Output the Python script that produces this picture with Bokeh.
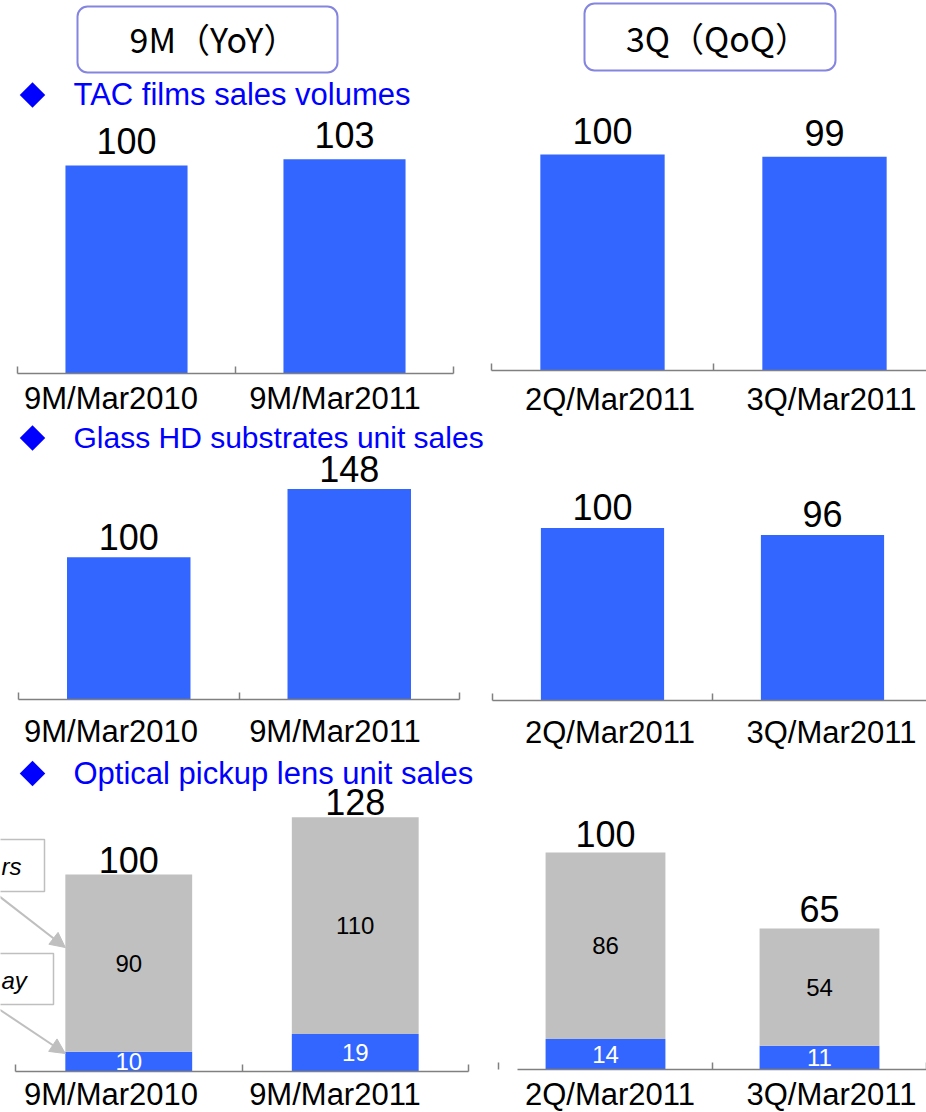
import numpy as np
from bokeh.plotting import figure
from bokeh.layouts import column, row
from bokeh.models import FixedTicker, Range1d, Arrow, NormalHead, ColumnDataSource
from bokeh.core.properties import value
from bokeh.embed import file_html
from bokeh.resources import INLINE

# ---------------- data ----------------
periods_yoy = ["9M/Mar2010", "9M/Mar2011"]
periods_qoq = ["2Q/Mar2011", "3Q/Mar2011"]

tac_yoy = [100, 103]
tac_qoq = [100, 99]

glass_yoy = [100, 148]
glass_qoq = [100, 96]

pickup_bluray_yoy = [10, 19]
pickup_others_yoy = [90, 110]
pickup_total_yoy = [100, 128]
pickup_bluray_qoq = [14, 11]
pickup_others_qoq = [86, 54]
pickup_total_qoq = [100, 65]

header_titles = ["9M（YoY）", "3Q（QoQ）"]
section_titles = ["TAC films sales volumes",
                  "Glass HD substrates unit sales",
                  "Optical pickup lens unit sales"]
callout_texts = ["rs", "ay"]   # visible ends of the cropped callout labels

# ---------------- style ----------------
FONT = "Liberation Sans"
CJK = "Noto Sans CJK JP"
BLUE = "#3366FF"
GRAY = "#C0C0C0"
TITLE_BLUE = "#0000FF"
AXIS = "#808080"
BOX = "#8585E0"
CALLOUT = "#BFBFBF"
BAR_W = 0.56
W_LEFT, W_RIGHT = 487, 439
TOTAL_W = W_LEFT + W_RIGHT
LABEL_PX_LEFT = [110.5, 334.5]    # page-pixel centres of the category labels
LABEL_PX_RIGHT = [609.5, 831.0]


class Panel:
    """A bar panel; layout given in page pixels, drawn in data space."""

    def __init__(self, cats, left, top, w, h, x0, cw, axis_y, ppu, standoff,
                 label_px, axis_start_px=None):
        self.x0, self.cw, self.axis_y, self.ppu = x0, cw, axis_y, ppu
        n = len(cats)
        p = figure(width=w, height=h, output_backend="svg", toolbar_location=None,
                   tools="", x_range=Range1d(self.dx(left), self.dx(left + w)),
                   y_range=Range1d(self.dy(top + h), self.dy(top)),
                   min_border=0, y_axis_location=None)
        p.outline_line_color = None
        p.xgrid.visible = False
        p.ygrid.visible = False
        self.centers = [i + 0.5 for i in range(n)]
        ticks = [self.dx(v) for v in label_px]
        ax = p.xaxis[0]
        ax.ticker = FixedTicker(ticks=ticks, minor_ticks=list(range(n + 1)))
        ax.major_label_overrides = {t: lab for t, lab in zip(ticks, cats)}
        ax.fixed_location = 0
        ax.bounds = (0 if axis_start_px is None else self.dx(axis_start_px), n)
        ax.axis_line_color = AXIS
        ax.axis_line_width = 1.5
        ax.major_tick_line_color = None
        ax.major_tick_in = 0
        ax.major_tick_out = 0
        ax.minor_tick_line_color = AXIS
        ax.minor_tick_line_width = 1.5
        ax.minor_tick_in = 7
        ax.minor_tick_out = 0
        ax.major_label_text_font = FONT
        ax.major_label_text_font_size = "31px"
        ax.major_label_text_color = "black"
        ax.major_label_standoff = standoff
        self.p = p

    def dx(self, px):
        return (px - self.x0) / self.cw

    def dy(self, py):
        return (self.axis_y - py) / self.ppu

    def section_title(self, text, cap_mid, dmid, size="31px"):
        self.p.scatter(x=[self.dx(32)], y=[self.dy(dmid)], marker="square", size=18,
                       angle=np.pi / 4, fill_color=TITLE_BLUE, line_color=None)
        self.p.text(x=[self.dx(73)], y=[self.dy(cap_mid)], text=[text],
                    text_baseline="middle", text_font=value(FONT),
                    text_font_size=size, text_color=TITLE_BLUE)

    def simple_bars(self, vals, off):
        src = ColumnDataSource(dict(x=self.centers, top=vals,
                                    label=[str(v) for v in vals]))
        self.p.vbar(x="x", top="top", bottom=0, width=BAR_W, source=src,
                    fill_color=BLUE, line_color=None)
        self.p.text(x="x", y="top", text="label", source=src, text_align="center",
                    text_baseline="middle", y_offset=-off, text_font=value(FONT),
                    text_font_size="36px", text_color="black")

    def stacked_bars(self, blu, oth, tot, off):
        tops = [b + o for b, o in zip(blu, oth)]
        src = ColumnDataSource(dict(
            x=self.centers, blu=blu, top=tops,
            blu_mid=[b / 2 for b in blu],
            oth_mid=[b + o / 2 for b, o in zip(blu, oth)],
            blu_lab=[str(v) for v in blu], oth_lab=[str(v) for v in oth],
            tot_lab=[str(v) for v in tot]))
        p = self.p
        p.vbar(x="x", bottom=0, top="blu", width=BAR_W, source=src,
               fill_color=BLUE, line_color=None)
        p.vbar(x="x", bottom="blu", top="top", width=BAR_W, source=src,
               fill_color=GRAY, line_color=None)
        p.text(x="x", y="oth_mid", text="oth_lab", source=src, text_align="center",
               text_baseline="middle", text_font=value(FONT), text_font_size="24px",
               text_color="black")
        p.text(x="x", y="blu_mid", text="blu_lab", source=src, text_align="center",
               text_baseline="middle", text_font=value(FONT), text_font_size="24px",
               text_color="white")
        p.text(x="x", y="top", text="tot_lab", source=src, text_align="center",
               text_baseline="middle", y_offset=-off, text_font=value(FONT),
               text_font_size="36px", text_color="black")


# ---------------- header ----------------
hdr = figure(width=TOTAL_W, height=74, output_backend="svg", toolbar_location=None,
             tools="", x_range=Range1d(0, TOTAL_W), y_range=Range1d(74, 0), min_border=0,
             x_axis_location=None, y_axis_location=None)
hdr.outline_line_color = None
hdr.xgrid.visible = False
hdr.ygrid.visible = False
hdr.quad(left=[77, 584], right=[337, 835], top=[6, 3], bottom=[72, 70],
         fill_color="white", line_color=BOX, line_width=2, border_radius=10)
hdr.text(x=[213, 717], y=[38, 36.5], text=header_titles, text_align="center",
         text_baseline="middle", text_font=value(CJK), text_font_size="34px",
         text_color="black")

# ---------------- row 1: TAC ----------------
r1l = Panel(periods_yoy, 0, 74, W_LEFT, 344, 17, 218, 373, 2.08, 7, LABEL_PX_LEFT)
r1l.section_title(section_titles[0], 93.5, 94.5)
r1l.simple_bars(tac_yoy, 24.5)
r1r = Panel(periods_qoq, W_LEFT, 74, W_RIGHT, 344, 491, 222, 370, 2.16, 11, LABEL_PX_RIGHT)
r1r.simple_bars(tac_qoq, 23.5)

# ---------------- row 2: Glass HD ----------------
r2l = Panel(periods_yoy, 0, 418, W_LEFT, 334, 18, 220.5, 699, 1.423, 14, LABEL_PX_LEFT)
r2l.section_title(section_titles[1], 436.5, 437.5, size="30px")
r2l.simple_bars(glass_yoy, 20)
r2r = Panel(periods_qoq, W_LEFT, 418, W_RIGHT, 334, 492, 220, 700, 1.725, 14, LABEL_PX_RIGHT)
r2r.simple_bars(glass_qoq, 21)

# ---------------- row 3: Optical pickup ----------------
r3l = Panel(periods_yoy, 0, 752, W_LEFT, 360, 15, 226.5, 1071, 1.97, 5, LABEL_PX_LEFT)
r3l.section_title(section_titles[2], 773, 773)
r3l.stacked_bars(pickup_bluray_yoy, pickup_others_yoy, pickup_total_yoy, 15)
r3r = Panel(periods_qoq, W_LEFT, 752, W_RIGHT, 360, 498, 214, 1069, 2.17, 7, LABEL_PX_RIGHT,
            axis_start_px=517)
r3r.stacked_bars(pickup_bluray_qoq, pickup_others_qoq, pickup_total_qoq, 19)

# callouts (page pixels converted to the panel's data space)
p3 = r3l.p
p3.quad(left=[r3l.dx(-20), r3l.dx(-20)], right=[r3l.dx(44), r3l.dx(53)],
        top=[r3l.dy(839), r3l.dy(953)], bottom=[r3l.dy(891), r3l.dy(1004)],
        fill_color="white", line_color=CALLOUT, line_width=1.5)
p3.text(x=[r3l.dx(1), r3l.dx(1)], y=[r3l.dy(866), r3l.dy(980)], text=callout_texts,
        text_align="left", text_baseline="middle", text_font=value(FONT),
        text_font_style="italic", text_font_size="24px", text_color="black")
bar_left = r3l.centers[0] - BAR_W / 2
for (xs, ys), ye in [((-10, 889), 947), ((-10, 1003), 1053)]:
    p3.add_layout(Arrow(end=NormalHead(size=15, fill_color=CALLOUT, line_color=CALLOUT),
                        x_start=r3l.dx(xs), y_start=r3l.dy(ys), x_end=bar_left,
                        y_end=r3l.dy(ye), line_color=CALLOUT, line_width=2))

layout = column(hdr, row(r1l.p, r1r.p), row(r2l.p, r2r.p), row(r3l.p, r3r.p))
open("out.html", "w").write(file_html(layout, INLINE))
